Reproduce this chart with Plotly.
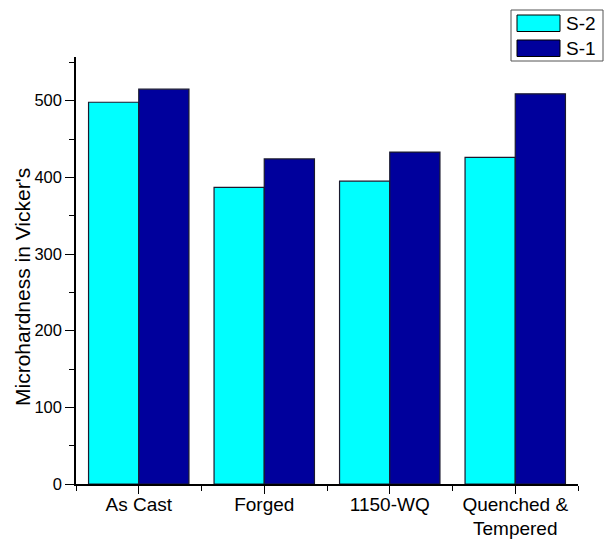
import plotly.graph_objects as go

# Heat-treatment conditions and Vickers microhardness for the two samples
categories = ["As Cast", "Forged", "1150-WQ", "Quenched &<br>Tempered"]
series_names = ["S-2", "S-1"]
s2_values = [498, 387, 395, 426]
s1_values = [515, 424, 433, 509]
series_values = [s2_values, s1_values]
series_colors = ["#00FFFF", "#00009C"]
y_ticks = [0, 100, 200, 300, 400, 500]

W, H = 616, 539
ML, MR, MT, MB = 76, 38, 57, 55
FONT = "Liberation Sans, Arial, sans-serif"

positions = list(range(len(categories)))

fig = go.Figure()
for name, vals, col in zip(series_names, series_values, series_colors):
    fig.add_trace(go.Bar(
        x=positions, y=vals, name=name,
        marker=dict(color=col, line=dict(color="#1a1a2e", width=1.2)),
        showlegend=False,
    ))


def px_to_paper(px, py):
    return (px - ML) / (W - ML - MR), (H - MB - py) / (H - MT - MB)


# Boxed key with wide swatches, placed in the top-right corner
shapes = []
annotations = []
bx0, by0 = px_to_paper(511, 10)
bx1, by1 = px_to_paper(603, 61)
shapes.append(dict(type="rect", xref="paper", yref="paper", x0=bx0, y0=by1, x1=bx1, y1=by0,
                   line=dict(color="#555555", width=1), fillcolor="white", layer="above"))
for i, (name, col) in enumerate(zip(series_names, series_colors)):
    top = 15 + i * 25
    sx0, sy0 = px_to_paper(517, top)
    sx1, sy1 = px_to_paper(560, top + 16.5)
    shapes.append(dict(type="rect", xref="paper", yref="paper", x0=sx0, y0=sy1, x1=sx1, y1=sy0,
                       line=dict(color="black", width=1), fillcolor=col, layer="above"))
    tx, ty = px_to_paper(564, top + 8.5)
    annotations.append(dict(xref="paper", yref="paper", x=tx, y=ty, text=name, showarrow=False,
                            xanchor="left", yanchor="middle",
                            font=dict(family=FONT, size=19, color="black")))

# Y-axis title
ax, ay = px_to_paper(22, 287)
annotations.append(dict(xref="paper", yref="paper", x=ax, y=ay, text="Microhardness in Vicker's",
                        showarrow=False, textangle=-90, xanchor="center", yanchor="middle",
                        font=dict(family=FONT, size=21, color="black")))

fig.update_layout(
    width=W, height=H,
    margin=dict(l=ML, r=MR, t=MT, b=MB, pad=0, autoexpand=False),
    paper_bgcolor="white", plot_bgcolor="white",
    barmode="group", bargap=0.2, bargroupgap=0,
    font=dict(family=FONT, color="black"),
    shapes=shapes, annotations=annotations,
    xaxis=dict(
        automargin=False,
        range=[-0.5, len(categories) - 0.5],
        tickmode="array", tickvals=positions, ticktext=categories,
        ticks="outside", ticklen=8, tickwidth=1.2, tickcolor="black",
        ticklabelstandoff=-6,
        tickfont=dict(family=FONT, size=19, color="black"),
        showline=True, linecolor="black", linewidth=1.5,
        showgrid=False, zeroline=False,
        minor=dict(tickmode="linear", tick0=-0.5, dtick=1, ticks="outside",
                   ticklen=5, tickwidth=1.2, tickcolor="black", showgrid=False),
    ),
    yaxis=dict(
        automargin=False,
        range=[0, 557],
        tickmode="array", tickvals=y_ticks,
        ticks="outside", ticklen=9, tickwidth=1.2, tickcolor="black",
        tickfont=dict(family=FONT, size=16.5, color="black"),
        showline=True, linecolor="black", linewidth=1.5,
        showgrid=False, zeroline=False,
        minor=dict(tickmode="linear", tick0=50, dtick=100, ticks="outside",
                   ticklen=5, tickwidth=1.2, tickcolor="black", showgrid=False),
    ),
)

fig.write_html("out.html")
